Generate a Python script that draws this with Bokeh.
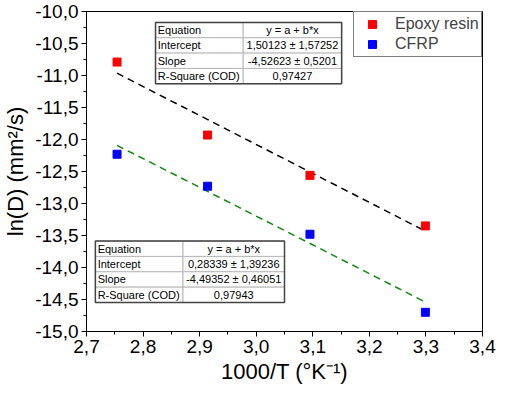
from bokeh.plotting import figure
from bokeh.models import Range1d, FixedTicker, CustomJSTickFormatter, Legend, LegendItem
from bokeh.core.properties import value
from bokeh.embed import file_html
from bokeh.resources import INLINE

# ---- data ----
inv_T = [2.754, 2.914, 3.095, 3.299]
epoxy_lnD = [-10.79, -11.93, -12.56, -13.35]
cfrp_lnD = [-12.23, -12.73, -13.48, -14.70]

epoxy_fit = {"a": 1.50123, "b": -4.52623}
cfrp_fit = {"a": 0.28339, "b": -4.49352}

x_ticks = [2.7, 2.8, 2.9, 3.0, 3.1, 3.2, 3.3, 3.4]
y_ticks = [-15.0, -14.5, -14.0, -13.5, -13.0, -12.5, -12.0, -11.5, -11.0, -10.5, -10.0]

epoxy_table = [["Equation", "y = a + b*x"],
               ["Intercept", "1,50123 \u00b1 1,57252"],
               ["Slope", "-4,52623 \u00b1 0,5201"],
               ["R-Square (COD)", "0,97427"]]
cfrp_table = [["Equation", "y = a + b*x"],
              ["Intercept", "0,28339 \u00b1 1,39236"],
              ["Slope", "-4,49352 \u00b1 0,46051"],
              ["R-Square (COD)", "0,97943"]]

FONT = "Liberation Sans"

p = figure(width=497, height=397, output_backend="svg", toolbar_location=None,
           x_range=Range1d(2.7, 3.4), y_range=Range1d(-15, -10),
           min_border_left=80, min_border_right=15, min_border_top=11, min_border_bottom=66)
p.background_fill_color = "white"
p.border_fill_color = "white"
p.xgrid.visible = False
p.ygrid.visible = False
p.outline_line_color = "black"
p.outline_line_width = 1

x_minor = [(a + b) / 2 for a, b in zip(x_ticks[:-1], x_ticks[1:])]
y_minor = [(a + b) / 2 for a, b in zip(y_ticks[:-1], y_ticks[1:])]
p.xaxis.ticker = FixedTicker(ticks=x_ticks, minor_ticks=x_minor)
p.yaxis.ticker = FixedTicker(ticks=y_ticks, minor_ticks=y_minor)
fmt = CustomJSTickFormatter(code="return tick.toFixed(1).replace('.', ',');")
p.xaxis.formatter = fmt
p.yaxis.formatter = fmt
for ax in (p.xaxis, p.yaxis):
    ax.axis_line_color = "black"
    ax.axis_line_width = 1
    ax.major_tick_line_color = "black"
    ax.minor_tick_line_color = "black"
    ax.major_tick_in = 0
    ax.minor_tick_in = 0
    ax.major_tick_out = 5
    ax.minor_tick_out = 3
    ax.major_label_text_font = FONT
    ax.major_label_text_font_size = "19px"
    ax.major_label_text_color = "black"
    ax.axis_label_text_font = FONT
    ax.axis_label_text_font_size = "22px"
    ax.axis_label_text_font_style = "normal"
    ax.axis_label_text_color = "black"
p.xaxis.major_label_standoff = 3
p.yaxis.major_label_standoff = 3
p.xaxis.axis_label_standoff = 3
p.yaxis.axis_label_standoff = 4
p.xaxis.axis_label = "1000/T (\u00b0K\u207b\u00b9)"
p.yaxis.axis_label = "ln(D) (mm\u00b2/s)"

# ---- fit lines ----
xs_fit = [min(inv_T), max(inv_T)]
p.line(xs_fit, [epoxy_fit["a"] + epoxy_fit["b"] * x for x in xs_fit],
       line_color="black", line_width=1.5, line_dash="7 5")
p.line(xs_fit, [cfrp_fit["a"] + cfrp_fit["b"] * x for x in xs_fit],
       line_color="#0b8a0b", line_width=1.5, line_dash="7 5")

# ---- tables ----
def draw_table(rows, x0, x1, x2, ytop, rh):
    n = len(rows)
    lefts, rights, tops, bottoms = [], [], [], []
    for i in range(n):
        t = ytop - i * rh
        b = t - rh
        for (l, r) in ((x0, x1), (x1, x2)):
            lefts.append(l); rights.append(r); tops.append(t); bottoms.append(b)
    p.quad(left=lefts, right=rights, top=tops, bottom=bottoms,
           fill_color="white", line_color="#b8b8b8", line_width=1)
    p.quad(left=[x0], right=[x2], top=[ytop], bottom=[ytop - n * rh],
           fill_alpha=0, line_color="#444444", line_width=1.5)
    ys = [ytop - (i + 0.5) * rh for i in range(n)]
    p.text(x=[x0 + 0.004] * n, y=ys, text=[r[0] for r in rows],
           text_font=value(FONT), text_font_size="11px", text_color="black",
           text_align="left", text_baseline="middle")
    p.text(x=[(x1 + x2) / 2] * n, y=ys, text=[r[1] for r in rows],
           text_font=value(FONT), text_font_size="11px", text_color="black",
           text_align="center", text_baseline="middle")

draw_table(epoxy_table, 2.822, 2.977, 3.151, -10.17, 0.24)
draw_table(cfrp_table, 2.7157, 2.8706, 3.050, -13.587, 0.24)

# ---- scatter ----
r1 = p.scatter(inv_T, epoxy_lnD, marker="square", size=8, fill_color="#ff0000", line_color="#ff0000")
r2 = p.scatter(inv_T, cfrp_lnD, marker="square", size=8, fill_color="#0000ff", line_color="#0000ff")

legend = Legend(items=[LegendItem(label="Epoxy resin", renderers=[r1]),
                       LegendItem(label="CFRP", renderers=[r2])],
                location="top_right", margin=0, padding=2, spacing=0,
                glyph_width=32, glyph_height=20, label_height=20, label_width=84,
                label_standoff=7, label_text_font=FONT, label_text_font_size="16px",
                border_line_color="black", border_line_width=1,
                background_fill_color="white", background_fill_alpha=1)
p.add_layout(legend, "center")

open("out.html", "w").write(file_html(p, INLINE))
